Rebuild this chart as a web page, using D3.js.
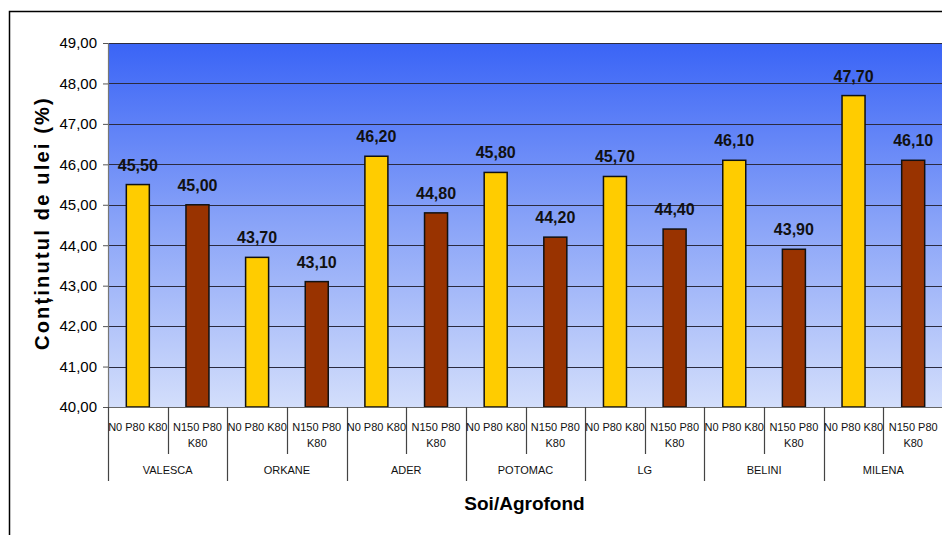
<!DOCTYPE html>
<html>
<head>
<meta charset="utf-8">
<script src="https://cdn.jsdelivr.net/npm/d3@7/dist/d3.min.js"></script>
<style>
  html, body { margin: 0; padding: 0; background: #fff; }
  svg { display: block; font-family: "Liberation Sans", Arial, sans-serif; }
</style>
</head>
<body>
<svg id="chart" width="942" height="535"></svg>
<script>
// Oil content by variety and fertilization level
const soiuri = ["VALESCA", "ORKANE", "ADER", "POTOMAC", "LG", "BELINI", "MILENA"];
const agrofonduri = ["N0 P80 K80", "N150 P80 K80"];
const agrofondLines = [["N0 P80 K80"], ["N150 P80", "K80"]];
const valoriN0 = [45.5, 43.7, 46.2, 45.8, 45.7, 46.1, 47.7];
const valoriN150 = [45.0, 43.1, 44.8, 44.2, 44.4, 43.9, 46.1];
const yTicks = [40, 41, 42, 43, 44, 45, 46, 47, 48, 49];
const culori = ["#FFCC00", "#993300"];

const fmt = v => v.toFixed(2).replace(".", ",");

const svg = d3.select("#chart");
const plot = { left: 108, right: 943, top: 43, bottom: 407 };

// outer frame
svg.append("path")
  .attr("d", "M9.5,540 V11.5 H950")
  .attr("fill", "none").attr("stroke", "#000").attr("stroke-width", 1.5);

const y = d3.scaleLinear().domain([40, 49]).range([plot.bottom, plot.top]);

const rows = [];
soiuri.forEach((s, i) => {
  rows.push({ soi: s, ag: 0, v: valoriN0[i], key: s + "|0" });
  rows.push({ soi: s, ag: 1, v: valoriN150[i], key: s + "|1" });
});
const xSub = d3.scaleBand().domain(rows.map(r => r.key)).range([plot.left, plot.right]).padding(0);
const xGroup = d3.scaleBand().domain(soiuri).range([plot.left, plot.right]).padding(0);

// plot background gradient
const defs = svg.append("defs");
const grad = defs.append("linearGradient").attr("id", "bg").attr("x1", 0).attr("y1", 0).attr("x2", 0).attr("y2", 1);
grad.append("stop").attr("offset", "0%").attr("stop-color", "#3a64f6");
grad.append("stop").attr("offset", "50%").attr("stop-color", "#8aa4f8");
grad.append("stop").attr("offset", "100%").attr("stop-color", "#d3defb");
svg.append("rect")
  .attr("x", plot.left).attr("y", plot.top)
  .attr("width", plot.right - plot.left).attr("height", plot.bottom - plot.top)
  .attr("fill", "url(#bg)");

// gridlines
svg.append("g").selectAll("line").data(yTicks.filter(t => t > 40)).join("line")
  .attr("x1", plot.left).attr("x2", plot.right)
  .attr("y1", d => Math.round(y(d)) + 0.5).attr("y2", d => Math.round(y(d)) + 0.5)
  .attr("stroke", "#2b2b40").attr("stroke-width", 1.2);

// y axis
const yAxis = d3.axisLeft(y).tickValues(yTicks).tickFormat(fmt).tickSize(5).tickPadding(6);
const gy = svg.append("g").attr("transform", `translate(${plot.left},0)`).call(yAxis);
gy.select(".domain").attr("stroke", "#777").attr("stroke-width", 1.2);
gy.selectAll(".tick line").attr("stroke", "#555");
gy.selectAll(".tick text").attr("font-size", 15).attr("fill", "#000")
  .attr("font-family", "'Liberation Sans', Arial, sans-serif");

// bars
const bw = 23;
svg.append("g").selectAll("rect").data(rows).join("rect")
  .attr("x", d => xSub(d.key) + xSub.bandwidth() / 2 - bw / 2)
  .attr("y", d => y(d.v))
  .attr("width", bw)
  .attr("height", d => y(40) - y(d.v))
  .attr("fill", d => culori[d.ag])
  .attr("stroke", "#111").attr("stroke-width", 1.5);

// value labels
svg.append("g").selectAll("text").data(rows).join("text")
  .attr("x", d => xSub(d.key) + xSub.bandwidth() / 2)
  .attr("y", d => y(d.v) - 14)
  .attr("text-anchor", "middle")
  .attr("font-size", 16).attr("font-weight", "bold")
  .attr("fill", "#111")
  .text(d => fmt(d.v));

// baseline
svg.append("line")
  .attr("x1", plot.left).attr("x2", plot.right)
  .attr("y1", plot.bottom + 0.5).attr("y2", plot.bottom + 0.5)
  .attr("stroke", "#666").attr("stroke-width", 1.2);

// category axis separators
const gx = svg.append("g");
rows.forEach(r => {
  const x0 = xSub(r.key);
  const isGroupStart = r.ag === 0;
  gx.append("line")
    .attr("x1", Math.round(x0) + 0.5).attr("x2", Math.round(x0) + 0.5)
    .attr("y1", plot.bottom).attr("y2", isGroupStart ? 481 : 454)
    .attr("stroke", "#444").attr("stroke-width", 1.2);
});

// fertilization labels
rows.forEach(r => {
  const cx = xSub(r.key) + xSub.bandwidth() / 2;
  agrofondLines[r.ag].forEach((line, li) => {
    gx.append("text")
      .attr("x", cx).attr("y", 431 + li * 16)
      .attr("text-anchor", "middle")
      .attr("font-size", 11).attr("fill", "#111")
      .text(line);
  });
});

// variety labels
soiuri.forEach(s => {
  gx.append("text")
    .attr("x", xGroup(s) + xGroup.bandwidth() / 2).attr("y", 474)
    .attr("text-anchor", "middle")
    .attr("font-size", 11).attr("fill", "#111")
    .text(s);
});

// axis titles
svg.append("text")
  .attr("x", (plot.left + plot.right) / 2 - 1).attr("y", 510)
  .attr("text-anchor", "middle")
  .attr("font-size", 19).attr("font-weight", "bold")
  .text("Soi/Agrofond");

svg.append("text")
  .attr("transform", "translate(49,223) rotate(-90)")
  .attr("text-anchor", "middle")
  .attr("font-size", 20).attr("font-weight", "bold")
  .attr("letter-spacing", 2.2)
  .text("Conținutul de ulei (%)");
</script>
</body>
</html>
